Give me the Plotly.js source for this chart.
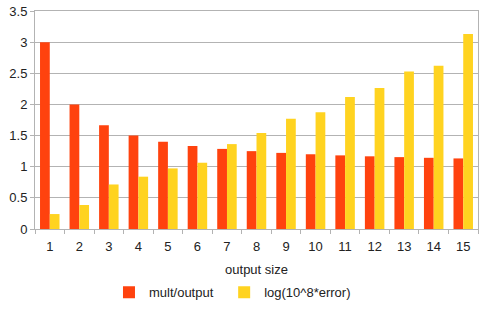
<!DOCTYPE html>
<html>
<head>
<meta charset="utf-8">
<script src="https://cdn.plot.ly/plotly-3.0.1.min.js"></script>
<style>
  html, body { margin: 0; padding: 0; background: #fff; }
  #chart { width: 491px; height: 320px; }
</style>
</head>
<body>
<div id="chart"></div>
<script>
const sizes = ['1','2','3','4','5','6','7','8','9','10','11','12','13','14','15'];
const multOutput = [3.0, 2.0, 1.667, 1.5, 1.4, 1.333, 1.286, 1.25, 1.222, 1.2, 1.182, 1.167, 1.154, 1.143, 1.133];
const logError   = [0.24, 0.385, 0.715, 0.84, 0.973, 1.064, 1.363, 1.54, 1.77, 1.876, 2.12, 2.265, 2.53, 2.62, 3.13];

const FONT = 'Liberation Sans, Arial, sans-serif';
const GRID = '#b3b3b3';

// each series gets its own legend so the two entries can sit where LibreOffice put them
const legendBox = x => ({ orientation: 'h', x: x, xanchor: 'left', y: -0.29, yanchor: 'middle',
                          font: { size: 13 } });

Plotly.newPlot('chart', [
    { x: sizes, y: multOutput, type: 'bar', name: 'mult/output',
      marker: { color: '#ff420e' }, legend: 'legend' },
    { x: sizes, y: logError, type: 'bar', name: 'log(10^8*error)',
      marker: { color: '#ffd320' }, legend: 'legend2' }
], {
    width: 491, height: 320,
    margin: { l: 35, r: 13, t: 11, b: 91 },
    barmode: 'group', bargap: 0.34, bargroupgap: 0,
    paper_bgcolor: '#fff', plot_bgcolor: '#fff',
    font: { family: FONT, size: 13, color: '#222' },
    showlegend: true,
    xaxis: {
        type: 'category',
        tickson: 'boundaries', ticks: 'outside', ticklen: 4, tickcolor: GRID,
        showline: true, linecolor: GRID, mirror: true,
        showgrid: false,
        ticklabelstandoff: 5,
        title: { text: 'output size', font: { size: 13 }, standoff: 12 }
    },
    yaxis: {
        range: [0, 3.5], dtick: 0.5,
        ticks: 'outside', ticklen: 4, tickcolor: GRID,
        showline: true, linecolor: GRID, mirror: true,
        gridcolor: GRID, zeroline: false
    },
    legend: legendBox(0.167),
    legend2: legendBox(0.427)
}, { displayModeBar: false, staticPlot: true });
</script>
</body>
</html>
